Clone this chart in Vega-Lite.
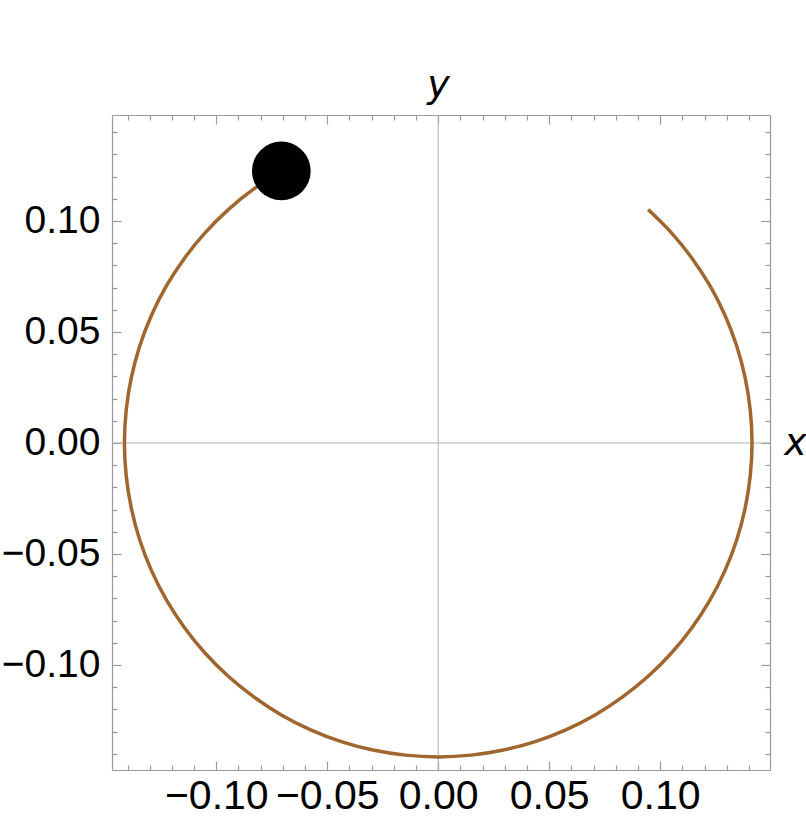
{
  "$schema": "https://vega.github.io/schema/vega-lite/v6.json",
  "width": 658,
  "height": 655,
  "autosize": "none",
  "padding": {"left": 112, "top": 115, "right": 36, "bottom": 56},
  "background": "white",
  "config": {
    "view": {"stroke": null},
    "axis": {
      "grid": false,
      "domainColor": "#999999",
      "domainWidth": 1.2,
      "tickColor": "#999999",
      "tickWidth": 1.2,
      "labelFont": "Liberation Sans",
      "labelFontSize": 39,
      "labelColor": "black",
      "titleFont": "DejaVu Sans",
      "titleFontStyle": "italic",
      "titleFontWeight": "normal",
      "titleFontSize": 38,
      "titleColor": "black"
    }
  },
  "datasets": {
    "arc": [
      {"t": 0, "x": 0.0946, "y": 0.1051},
      {"t": 1, "x": 0.1051, "y": 0.0946},
      {"t": 2, "x": 0.1144, "y": 0.0831},
      {"t": 3, "x": 0.1225, "y": 0.0707},
      {"t": 4, "x": 0.1292, "y": 0.0575},
      {"t": 5, "x": 0.1345, "y": 0.0437},
      {"t": 6, "x": 0.1383, "y": 0.0294},
      {"t": 7, "x": 0.1406, "y": 0.0148},
      {"t": 8, "x": 0.1414, "y": 0.0},
      {"t": 9, "x": 0.1406, "y": -0.0148},
      {"t": 10, "x": 0.1383, "y": -0.0294},
      {"t": 11, "x": 0.1345, "y": -0.0437},
      {"t": 12, "x": 0.1292, "y": -0.0575},
      {"t": 13, "x": 0.1225, "y": -0.0707},
      {"t": 14, "x": 0.1144, "y": -0.0831},
      {"t": 15, "x": 0.1051, "y": -0.0946},
      {"t": 16, "x": 0.0946, "y": -0.1051},
      {"t": 17, "x": 0.0831, "y": -0.1144},
      {"t": 18, "x": 0.0707, "y": -0.1225},
      {"t": 19, "x": 0.0575, "y": -0.1292},
      {"t": 20, "x": 0.0437, "y": -0.1345},
      {"t": 21, "x": 0.0294, "y": -0.1383},
      {"t": 22, "x": 0.0148, "y": -0.1406},
      {"t": 23, "x": 0.0, "y": -0.1414},
      {"t": 24, "x": -0.0148, "y": -0.1406},
      {"t": 25, "x": -0.0294, "y": -0.1383},
      {"t": 26, "x": -0.0437, "y": -0.1345},
      {"t": 27, "x": -0.0575, "y": -0.1292},
      {"t": 28, "x": -0.0707, "y": -0.1225},
      {"t": 29, "x": -0.0831, "y": -0.1144},
      {"t": 30, "x": -0.0946, "y": -0.1051},
      {"t": 31, "x": -0.1051, "y": -0.0946},
      {"t": 32, "x": -0.1144, "y": -0.0831},
      {"t": 33, "x": -0.1225, "y": -0.0707},
      {"t": 34, "x": -0.1292, "y": -0.0575},
      {"t": 35, "x": -0.1345, "y": -0.0437},
      {"t": 36, "x": -0.1383, "y": -0.0294},
      {"t": 37, "x": -0.1406, "y": -0.0148},
      {"t": 38, "x": -0.1414, "y": 0.0},
      {"t": 39, "x": -0.1406, "y": 0.0148},
      {"t": 40, "x": -0.1383, "y": 0.0294},
      {"t": 41, "x": -0.1345, "y": 0.0437},
      {"t": 42, "x": -0.1292, "y": 0.0575},
      {"t": 43, "x": -0.1225, "y": 0.0707},
      {"t": 44, "x": -0.1144, "y": 0.0831},
      {"t": 45, "x": -0.1051, "y": 0.0946},
      {"t": 46, "x": -0.0946, "y": 0.1051},
      {"t": 47, "x": -0.0831, "y": 0.1144},
      {"t": 48, "x": -0.0707, "y": 0.1225}
    ],
    "dot": [{"x": -0.0707, "y": 0.1225}],
    "zero": [{"v": 0}]
  },
  "resolve": {"axis": {"x": "independent", "y": "independent"}},
  "layer": [
    {
      "data": {"name": "zero"},
      "mark": {"type": "rule", "color": "#b0b0b0", "strokeWidth": 1},
      "encoding": {
        "x": {"field": "v", "type": "quantitative", "scale": {"domain": [-0.147, 0.1495], "nice": false, "zero": false}, "axis": null}
      }
    },
    {
      "data": {"name": "zero"},
      "mark": {"type": "rule", "color": "#b0b0b0", "strokeWidth": 1},
      "encoding": {
        "y": {"field": "v", "type": "quantitative", "scale": {"domain": [-0.1473, 0.1477], "nice": false, "zero": false}, "axis": null}
      }
    },
    {
      "data": {"name": "arc"},
      "mark": {"type": "line", "color": "#a0662e", "strokeWidth": 3.5, "interpolate": "catmull-rom", "clip": false},
      "encoding": {
        "order": {"field": "t", "type": "quantitative"},
        "x": {
          "field": "x", "type": "quantitative",
          "scale": {"domain": [-0.147, 0.1495], "nice": false, "zero": false},
          "axis": {
            "orient": "bottom",
            "values": [-0.14,-0.13,-0.12,-0.11,-0.10,-0.09,-0.08,-0.07,-0.06,-0.05,-0.04,-0.03,-0.02,-0.01,0,0.01,0.02,0.03,0.04,0.05,0.06,0.07,0.08,0.09,0.10,0.11,0.12,0.13,0.14],
            "labelExpr": "round(datum.value*100) % 5 == 0 ? format(datum.value, '.2f') : ''",
            "tickSize": {"condition": {"test": "round(datum.value*100) % 5 == 0", "value": -9}, "value": -5},
            "labelPadding": 15,
            "labelFontSize": 41,
            "labelOverlap": false,
            "labelFlush": false,
            "title": "x",
            "titleX": 683,
            "titleY": -327,
            "titleAlign": "center",
            "titleBaseline": "middle"
          }
        },
        "y": {
          "field": "y", "type": "quantitative",
          "scale": {"domain": [-0.1473, 0.1477], "nice": false, "zero": false},
          "axis": {
            "orient": "left",
            "values": [-0.14,-0.13,-0.12,-0.11,-0.10,-0.09,-0.08,-0.07,-0.06,-0.05,-0.04,-0.03,-0.02,-0.01,0,0.01,0.02,0.03,0.04,0.05,0.06,0.07,0.08,0.09,0.10,0.11,0.12,0.13,0.14],
            "labelExpr": "round(datum.value*100) % 5 == 0 ? format(datum.value, '.2f') : ''",
            "tickSize": {"condition": {"test": "round(datum.value*100) % 5 == 0", "value": -9}, "value": -5},
            "labelPadding": 21,
            "labelOverlap": false,
            "labelFlush": false,
            "title": "y",
            "titleAngle": 0,
            "titleX": 326,
            "titleY": -30,
            "titleAlign": "center",
            "titleBaseline": "middle"
          }
        }
      }
    },
    {
      "data": {"name": "dot"},
      "mark": {"type": "point", "shape": "circle", "filled": true, "color": "black", "opacity": 1, "size": 3450, "clip": false},
      "encoding": {
        "x": {
          "field": "x", "type": "quantitative",
          "scale": {"domain": [-0.147, 0.1495], "nice": false, "zero": false},
          "axis": {
            "orient": "top",
            "values": [-0.14,-0.13,-0.12,-0.11,-0.10,-0.09,-0.08,-0.07,-0.06,-0.05,-0.04,-0.03,-0.02,-0.01,0,0.01,0.02,0.03,0.04,0.05,0.06,0.07,0.08,0.09,0.10,0.11,0.12,0.13,0.14],
            "labels": false,
            "tickSize": {"condition": {"test": "round(datum.value*100) % 5 == 0", "value": -9}, "value": -5},
            "title": null
          }
        },
        "y": {
          "field": "y", "type": "quantitative",
          "scale": {"domain": [-0.1473, 0.1477], "nice": false, "zero": false},
          "axis": {
            "orient": "right",
            "values": [-0.14,-0.13,-0.12,-0.11,-0.10,-0.09,-0.08,-0.07,-0.06,-0.05,-0.04,-0.03,-0.02,-0.01,0,0.01,0.02,0.03,0.04,0.05,0.06,0.07,0.08,0.09,0.10,0.11,0.12,0.13,0.14],
            "labels": false,
            "tickSize": {"condition": {"test": "round(datum.value*100) % 5 == 0", "value": -9}, "value": -5},
            "title": null
          }
        }
      }
    }
  ]
}
